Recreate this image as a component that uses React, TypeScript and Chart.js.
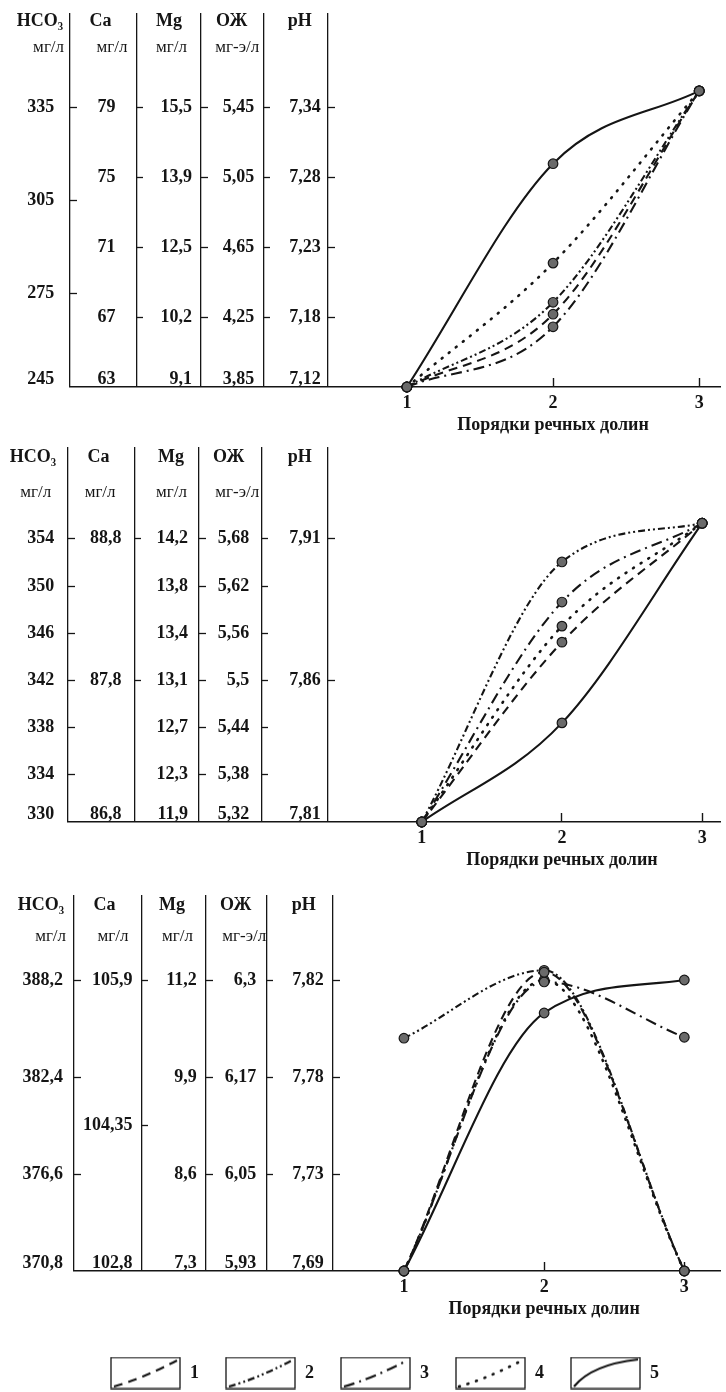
import React, { useEffect, useRef } from 'react';
import { Chart, registerables } from 'chart.js';

Chart.register(...registerables);

const PAGE_W = 726;
const PAGE_H = 1392;
const INK = '#151515';
const SERIF = "'Liberation Serif', 'DejaVu Serif', serif";

// ---------------- data ----------------
const orders = [1, 2, 3];
const xTitle = 'Порядки речных долин';
const columnTitles = ['HCO₃', 'Ca', 'Mg', 'ОЖ', 'pH'];
const columnUnits = ['мг/л', 'мг/л', 'мг/л', 'мг-э/л', ''];
const legendLabels = ['1', '2', '3', '4', '5'];

// panel 1 axis labels (bottom to top)
const p1Hco3 = ['245', '275', '305', '335'];
const p1Ca = ['63', '67', '71', '75', '79'];
const p1Mg = ['9,1', '10,2', '12,5', '13,9', '15,5'];
const p1Oz = ['3,85', '4,25', '4,65', '5,05', '5,45'];
const p1Ph = ['7,12', '7,18', '7,23', '7,28', '7,34'];
// panel 1 curves: height in tick steps above the bottom line, at orders 1, 2, 3
const p1Line1 = [0, 1.04, 4.23];
const p1Line2 = [0, 1.21, 4.23];
const p1Line3 = [0, 0.86, 4.23];
const p1Line4 = [0, 1.77, 4.23];
const p1Line5 = [0, 3.19, 4.23];

// panel 2
const p2Hco3 = ['330', '334', '338', '342', '346', '350', '354'];
const p2Ca = ['86,8', '87,8', '88,8'];
const p2Mg = ['11,9', '12,3', '12,7', '13,1', '13,4', '13,8', '14,2'];
const p2Oz = ['5,32', '5,38', '5,44', '5,5', '5,56', '5,62', '5,68'];
const p2Ph = ['7,81', '7,86', '7,91'];
const p2Line1 = [0, 3.81, 6.33];
const p2Line2 = [0, 5.51, 6.33];
const p2Line3 = [0, 4.66, 6.33];
const p2Line4 = [0, 4.15, 6.33];
const p2Line5 = [0, 2.1, 6.33];

// panel 3
const p3Hco3 = ['370,8', '376,6', '382,4', '388,2'];
const p3Ca = ['102,8', '104,35', '105,9'];
const p3Mg = ['7,3', '8,6', '9,9', '11,2'];
const p3Oz = ['5,93', '6,05', '6,17', '6,3'];
const p3Ph = ['7,69', '7,73', '7,78', '7,82'];
const p3Line1 = [0, 3.08, 0];
const p3Line2 = [2.4, 3.1, 0];
const p3Line3 = [0, 2.98, 2.41];
const p3Line4 = [0, 3.0, 0];
const p3Line5 = [0, 2.66, 3.0];

const panelLabels = [
  [p1Hco3, p1Ca, p1Mg, p1Oz, p1Ph],
  [p2Hco3, p2Ca, p2Mg, p2Oz, p2Ph],
  [p3Hco3, p3Ca, p3Mg, p3Oz, p3Ph],
];
const panelLines = [
  [p1Line1, p1Line2, p1Line3, p1Line4, p1Line5],
  [p2Line1, p2Line2, p2Line3, p2Line4, p2Line5],
  [p3Line1, p3Line2, p3Line3, p3Line4, p3Line5],
];

// ---------------- layout & style ----------------
const LINE_STYLES = [
  { dash: [9, 6], cap: 'butt' },
  { dash: [7, 3, 2, 3, 2, 3], cap: 'butt' },
  { dash: [11, 5, 2, 5], cap: 'butt' },
  { dash: [1, 8], cap: 'round' },
  { dash: [], cap: 'butt' },
];

const GEO = [
  {
    top: 0, height: 440, lineTop: 13, baseline: 387, step: 70,
    cols: [70, 137, 202, 265, 330],
    valRight: [54, 116, 193, 256, 323],
    titleRight: [63, 112, 183, 249, 314],
    unitRight: [64, 128, 188, 261, 0],
    titleY: 21, unitY: 48, x1: 410, x3: 705,
  },
  {
    top: 420, height: 450, lineTop: 447, baseline: 822, step: 47.2,
    cols: [68, 135, 200, 263, 330],
    valRight: [54, 122, 189, 251, 323],
    titleRight: [56, 110, 185, 246, 314],
    unitRight: [51, 116, 188, 261, 0],
    titleY: 457, unitY: 493, x1: 425, x3: 708,
  },
  {
    top: 870, height: 450, lineTop: 895, baseline: 1271, step: 97,
    cols: [74, 142, 207, 268, 335],
    valRight: [63, 133, 198, 258, 326],
    titleRight: [64, 116, 186, 253, 318],
    unitRight: [66, 129, 194, 268, 0],
    titleY: 905, unitY: 937, x1: 407, x3: 690,
  },
];

const VALUE_FONT = { family: SERIF, size: 18, weight: 'bold' as const };
const TITLE_FONT = { family: SERIF, size: 18, weight: 'bold' as const };
const UNIT_FONT = { family: SERIF, size: 17 };
const AXIS_FONT = { family: SERIF, size: 18, weight: 'bold' as const };

const setTicks = (vals: number[]) => (s: any) => {
  s.ticks = vals.map((v) => ({ value: v }));
};

function makePanelConfig(p: number): any {
  const g = GEO[p];
  const labels = panelLabels[p];
  const lines = panelLines[p];
  const span = Math.max(...labels.map((l) => l.length)) - 1;
  const unitPx = (g.x3 - g.x1) / 2;
  const X = (px: number) => 1 + (px - g.x1) / unitPx;
  const L = (px: number) => (g.baseline - px) / g.step;
  const topLevel = L(g.lineTop);
  const xMin = X(g.cols[0]);
  const xMax = X(PAGE_W);

  const xBase = {
    type: 'linear', axis: 'x', min: xMin, max: xMax,
    border: { display: false },
    grid: { drawOnChartArea: false, drawTicks: false },
    ticks: { display: false, autoSkip: false, maxRotation: 0 },
  };
  const yBase = {
    type: 'linear', axis: 'y', min: 0, max: topLevel,
    border: { display: false },
    grid: { drawOnChartArea: false, drawTicks: false },
    ticks: { display: false, autoSkip: false },
  };

  const scales: any = {};
  scales.x = {
    ...xBase,
    position: { y: 0 },
    border: { display: true, color: INK, width: 1.6 },
    afterBuildTicks: setTicks(orders),
    ticks: { display: true, autoSkip: false, maxRotation: 0, padding: 6, color: INK, font: AXIS_FONT, callback: (v: any) => String(v) },
  };
  scales.xt = {
    ...xBase,
    position: { y: L(g.baseline - 9) },
    afterBuildTicks: setTicks(orders),
    grid: {
      drawOnChartArea: false, drawTicks: true, tickLength: 9, tickWidth: 1.4,
      tickColor: (ctx: any) => (ctx.tick && ctx.tick.value === 1 ? 'rgba(0,0,0,0)' : INK),
    },
  };
  scales.xl = {
    ...xBase,
    position: { y: 0 },
    afterBuildTicks: setTicks([2]),
    ticks: { display: true, autoSkip: false, maxRotation: 0, padding: 28, color: INK, font: AXIS_FONT, callback: () => xTitle },
  };
  scales.xg = {
    ...xBase,
    position: { y: 0 },
    afterBuildTicks: setTicks(g.cols.map(X)),
    grid: { drawOnChartArea: true, drawTicks: false, color: INK, lineWidth: 1.3 },
  };
  scales.y = { type: 'linear', axis: 'y', min: 0, max: topLevel, display: false };

  labels.forEach((labs, c) => {
    const n = labs.length;
    const slots = labs.map((_, i) => (i * span) / (n - 1));
    const valueSlots = slots.map((s, i) => (i === 0 ? L(g.baseline - 8) : s));
    scales['v' + c] = {
      ...yBase,
      position: { x: X(g.valRight[c]) },
      afterBuildTicks: setTicks(valueSlots),
      ticks: { display: true, autoSkip: false, padding: 0, color: INK, font: VALUE_FONT, callback: (_v: any, i: number) => labs[i] },
    };
    scales['t' + c] = {
      ...yBase,
      position: { x: X(g.cols[c] + 7) },
      afterBuildTicks: setTicks(slots.slice(1)),
      grid: { drawOnChartArea: false, drawTicks: true, tickLength: 7, tickWidth: 1.3, tickColor: INK },
    };
    scales['h' + c] = {
      ...yBase,
      position: { x: X(g.titleRight[c]) },
      afterBuildTicks: setTicks([L(g.titleY)]),
      ticks: { display: true, autoSkip: false, padding: 0, color: INK, font: TITLE_FONT, callback: () => columnTitles[c] },
    };
    if (columnUnits[c]) {
      scales['u' + c] = {
        ...yBase,
        position: { x: X(g.unitRight[c]) },
        afterBuildTicks: setTicks([L(g.unitY)]),
        ticks: { display: true, autoSkip: false, padding: 0, color: INK, font: UNIT_FONT, callback: () => columnUnits[c] },
      };
    }
  });

  const datasets = lines.map((vals, i) => ({
    label: legendLabels[i],
    data: orders.map((x, k) => ({ x, y: vals[k] })),
    xAxisID: 'x',
    yAxisID: 'y',
    borderColor: INK,
    borderWidth: i === 3 ? 2.6 : 2.1,
    borderDash: LINE_STYLES[i].dash,
    borderCapStyle: LINE_STYLES[i].cap,
    cubicInterpolationMode: 'monotone',
    fill: false,
    clip: false,
    pointRadius: 4.8,
    pointBackgroundColor: '#6a6a6a',
    pointBorderColor: INK,
    pointBorderWidth: 1.2,
  }));

  return {
    type: 'line',
    data: { datasets },
    options: {
      animation: false,
      responsive: false,
      events: [],
      layout: {
        padding: {
          top: g.lineTop - g.top,
          bottom: g.top + g.height - g.baseline,
          left: g.cols[0],
          right: 0,
        },
      },
      scales,
      plugins: { legend: { display: false }, tooltip: { enabled: false } },
    },
  };
}

const ICON_W = 71;
const ICON_H = 33;

function makeIcon(i: number): HTMLCanvasElement {
  const c = document.createElement('canvas');
  c.width = ICON_W;
  c.height = ICON_H;
  const ctx = c.getContext('2d')!;
  ctx.strokeStyle = INK;
  ctx.lineWidth = 1.3;
  ctx.strokeRect(1, 1, ICON_W - 2, ICON_H - 2);
  ctx.setLineDash(LINE_STYLES[i].dash);
  ctx.lineCap = LINE_STYLES[i].cap as CanvasLineCap;
  ctx.lineWidth = i === 3 ? 2.6 : 2.2;
  ctx.beginPath();
  ctx.moveTo(4, ICON_H - 3);
  if (i === 4) ctx.quadraticCurveTo(22, 8, ICON_W - 3, 3);
  else ctx.quadraticCurveTo(30, ICON_H - 10, ICON_W - 4, 4);
  ctx.stroke();
  return c;
}

function makeLegendConfig(): any {
  const icons = legendLabels.map((_, i) => makeIcon(i));
  return {
    type: 'line',
    data: { datasets: [] },
    options: {
      animation: false,
      responsive: false,
      events: [],
      layout: { padding: { top: 48, left: 43, right: 0, bottom: 0 } },
      scales: { x: { display: false }, y: { display: false } },
      plugins: {
        tooltip: { enabled: false },
        legend: {
          display: true,
          position: 'top',
          align: 'center',
          maxHeight: 200,
          labels: {
            usePointStyle: true,
            pointStyleWidth: ICON_W,
            boxHeight: 18,
            padding: 26,
            color: INK,
            font: AXIS_FONT,
            generateLabels: () =>
              legendLabels.map((t, i) => ({
                text: t,
                pointStyle: icons[i],
                fillStyle: 'rgba(0,0,0,0)',
                strokeStyle: 'rgba(0,0,0,0)',
                lineWidth: 0,
                hidden: false,
                datasetIndex: i,
                fontColor: INK,
              })),
          },
        },
      },
    },
  };
}

function ChartCanvas({ make, top, height }: { make: () => any; top: number; height: number }) {
  const ref = useRef<HTMLCanvasElement>(null);
  useEffect(() => {
    const chart = new Chart(ref.current as HTMLCanvasElement, make());
    return () => chart.destroy();
  }, []);
  return (
    <canvas
      ref={ref}
      width={PAGE_W}
      height={height}
      style={{ position: 'absolute', left: 0, top, width: PAGE_W, height }}
    />
  );
}

export default function App() {
  return (
    <div style={{ position: 'absolute', left: 0, top: 0, width: PAGE_W, height: PAGE_H, background: '#fff', overflow: 'hidden' }}>
      {GEO.map((g, p) => (
        <ChartCanvas key={p} make={() => makePanelConfig(p)} top={g.top} height={g.height} />
      ))}
      <ChartCanvas make={makeLegendConfig} top={1290} height={102} />
    </div>
  );
}
